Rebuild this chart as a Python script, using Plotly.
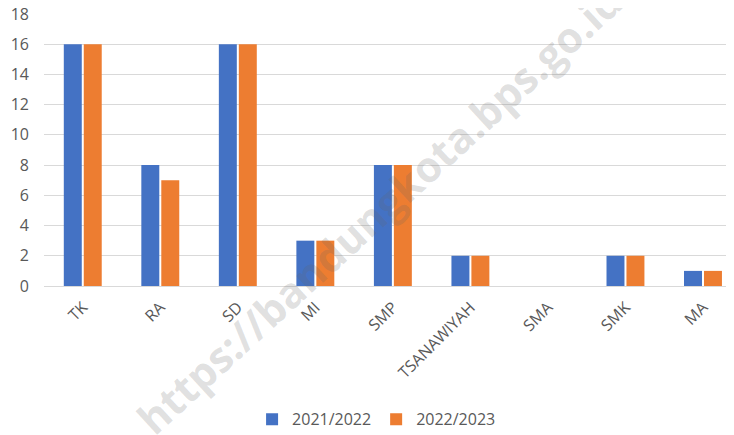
import plotly.graph_objects as go

categories = ["TK", "RA", "SD", "MI", "SMP", "TSANAWIYAH", "SMA", "SMK", "MA"]
series_2021 = [16, 8, 16, 3, 8, 2, 0, 2, 1]
series_2022 = [16, 7, 16, 3, 8, 2, 0, 2, 1]
series_names = ["2021/2022", "2022/2023"]
y_ticks = [0, 2, 4, 6, 8, 10, 12, 14, 16, 18]
watermark = "https://bandungkota.bps.go.id"

# page has an 8px body margin, so figure pixels = page pixels - 8
W, H = 734, 435
L, R, T, B = 36, 8, 6, 157

fig = go.Figure()
fig.add_trace(go.Bar(x=categories, y=series_2021, name=series_names[0],
                     marker=dict(color="#4472C4", line=dict(width=0))))
fig.add_trace(go.Bar(x=categories, y=series_2022, name=series_names[1],
                     marker=dict(color="#ED7D31", line=dict(width=0))))

fig.update_layout(
    template="none",
    width=W, height=H,
    margin=dict(l=L, r=R, t=T, b=B, pad=0),
    paper_bgcolor="white", plot_bgcolor="white",
    barmode="group", bargap=0.485, bargroupgap=0.1,
    font=dict(family="Open Sans, sans-serif", color="#595959", size=16),
    showlegend=True,
    legend=dict(orientation="h", x=0.482, xanchor="center", y=-0.49, yanchor="middle",
                font=dict(size=16, color="#595959"), itemwidth=30,
                traceorder="normal", bgcolor="rgba(0,0,0,0)"),
    xaxis=dict(range=[-0.5, 8.4], tickangle=-45, showgrid=False, showline=False,
               ticks="", automargin=False, ticklabelstandoff=8,
               tickfont=dict(size=16, color="#595959")),
    yaxis=dict(range=[0, 18], tickvals=y_ticks, showgrid=True, gridcolor="#D9D9D9",
               gridwidth=1, zeroline=True, zerolinecolor="#D9D9D9", zerolinewidth=1,
               showline=False, ticks="", automargin=False, ticklabelstandoff=14,
               ticklabeloverflow="allow",
               tickfont=dict(size=16, color="#595959")),
)

fig.add_annotation(
    text=watermark, xref="paper", yref="paper", x=0.485, y=0.28,
    xanchor="center", yanchor="middle",
    showarrow=False, textangle=-42.5,
    font=dict(family="Open Sans, sans-serif", size=42, weight="bold",
              color="rgba(100,100,100,0.2)"),
)

fig.write_html("out.html")
